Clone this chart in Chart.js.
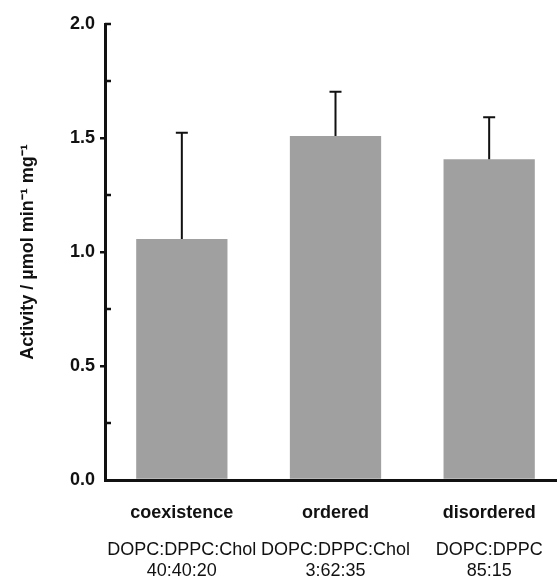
<!DOCTYPE html>
<html>
<head>
<meta charset="utf-8">
<script src="https://cdn.jsdelivr.net/npm/chart.js@4"></script>
<style>
  html, body { margin: 0; padding: 0; background: #fff; overflow: hidden; }
  #wrap { width: 557px; height: 578px; overflow: hidden; }
</style>
</head>
<body>
<div id="wrap"><canvas id="chart" width="566" height="578"></canvas></div>
<script>
const categories = ["coexistence", "ordered", "disordered"];
const compositions = [
  ["DOPC:DPPC:Chol", "40:40:20"],
  ["DOPC:DPPC:Chol", "3:62:35"],
  ["DOPC:DPPC", "85:15"],
];
const activity = [1.057, 1.509, 1.407];
const errorUp = [0.466, 0.194, 0.184];

const FONT = "'Liberation Sans', Arial, sans-serif";
const INK = "#111";

// error bars (upper half only) + inward minor ticks on the y axis
const extras = {
  id: "extras",
  afterDatasetsDraw(chart) {
    const { ctx } = chart;
    const y = chart.scales.y;
    const meta = chart.getDatasetMeta(0);
    ctx.save();
    ctx.strokeStyle = INK;
    ctx.lineWidth = 2;
    meta.data.forEach((bar, i) => {
      const top = y.getPixelForValue(activity[i] + errorUp[i]);
      ctx.beginPath();
      ctx.moveTo(bar.x, bar.y);
      ctx.lineTo(bar.x, top);
      ctx.moveTo(bar.x - 6, top);
      ctx.lineTo(bar.x + 6, top);
      ctx.stroke();
    });
    ctx.lineWidth = 2.5;
    const left = chart.chartArea.left;
    y.ticks.forEach((t) => {
      const minor = Math.abs(t.value * 2 - Math.round(t.value * 2)) > 1e-6;
      if (!minor && t.value !== 2) return;
      const py = y.getPixelForValue(t.value);
      ctx.beginPath();
      ctx.moveTo(left, py);
      ctx.lineTo(left + 6, py);
      ctx.stroke();
    });
    ctx.restore();
  },
};

new Chart(document.getElementById("chart"), {
  type: "bar",
  data: {
    labels: categories,
    datasets: [
      {
        data: activity,
        backgroundColor: "#a0a0a0",
        borderWidth: 0,
        barPercentage: 0.6,
        categoryPercentage: 0.99,
      },
    ],
  },
  options: {
    responsive: false,
    animation: false,
    layout: { padding: { top: 24, right: 0, left: 0, bottom: 0 } },
    plugins: { legend: { display: false }, tooltip: { enabled: false } },
    scales: {
      x: {
        offset: true,
        grid: { display: false },
        border: { display: true, color: INK, width: 3 },
        ticks: {
          color: INK,
          font: { family: FONT, size: 18, weight: "bold" },
          padding: 14,
          maxRotation: 0,
          autoSkip: false,
        },
        afterFit: (s) => { s.height = 43; },
      },
      x2: {
        type: "category",
        position: "bottom",
        labels: compositions,
        offset: true,
        grid: { display: false },
        border: { display: false },
        ticks: {
          color: INK,
          font: { family: FONT, size: 18, lineHeight: 1.2 },
          padding: 8,
          maxRotation: 0,
          minRotation: 0,
          autoSkip: false,
        },
        afterFit: (s) => { s.height = 55; },
      },
      y: {
        min: 0,
        max: 2,
        ticks: {
          stepSize: 0.25,
          color: INK,
          font: { family: FONT, size: 18, weight: "bold" },
          padding: 5,
          callback: (v) => (Math.abs(v * 2 - Math.round(v * 2)) < 1e-6 ? v.toFixed(1) : ""),
        },
        grid: {
          drawOnChartArea: false,
          tickLength: 5,
          lineWidth: 2.5,
          tickColor: (c) => {
            const v = c.tick ? c.tick.value : 0;
            return Math.abs(v * 2 - Math.round(v * 2)) < 1e-6 && v > 0 && v < 2 ? INK : "rgba(0,0,0,0)";
          },
        },
        border: { display: true, color: INK, width: 3 },
        title: {
          display: true,
          text: "Activity / µmol min⁻¹ mg⁻¹",
          color: INK,
          font: { family: FONT, size: 18, weight: "bold" },
          padding: { top: 17, bottom: 0 },
        },
        afterFit: (s) => { s.width = 105; },
      },
    },
  },
  plugins: [extras],
});
</script>
</body>
</html>
